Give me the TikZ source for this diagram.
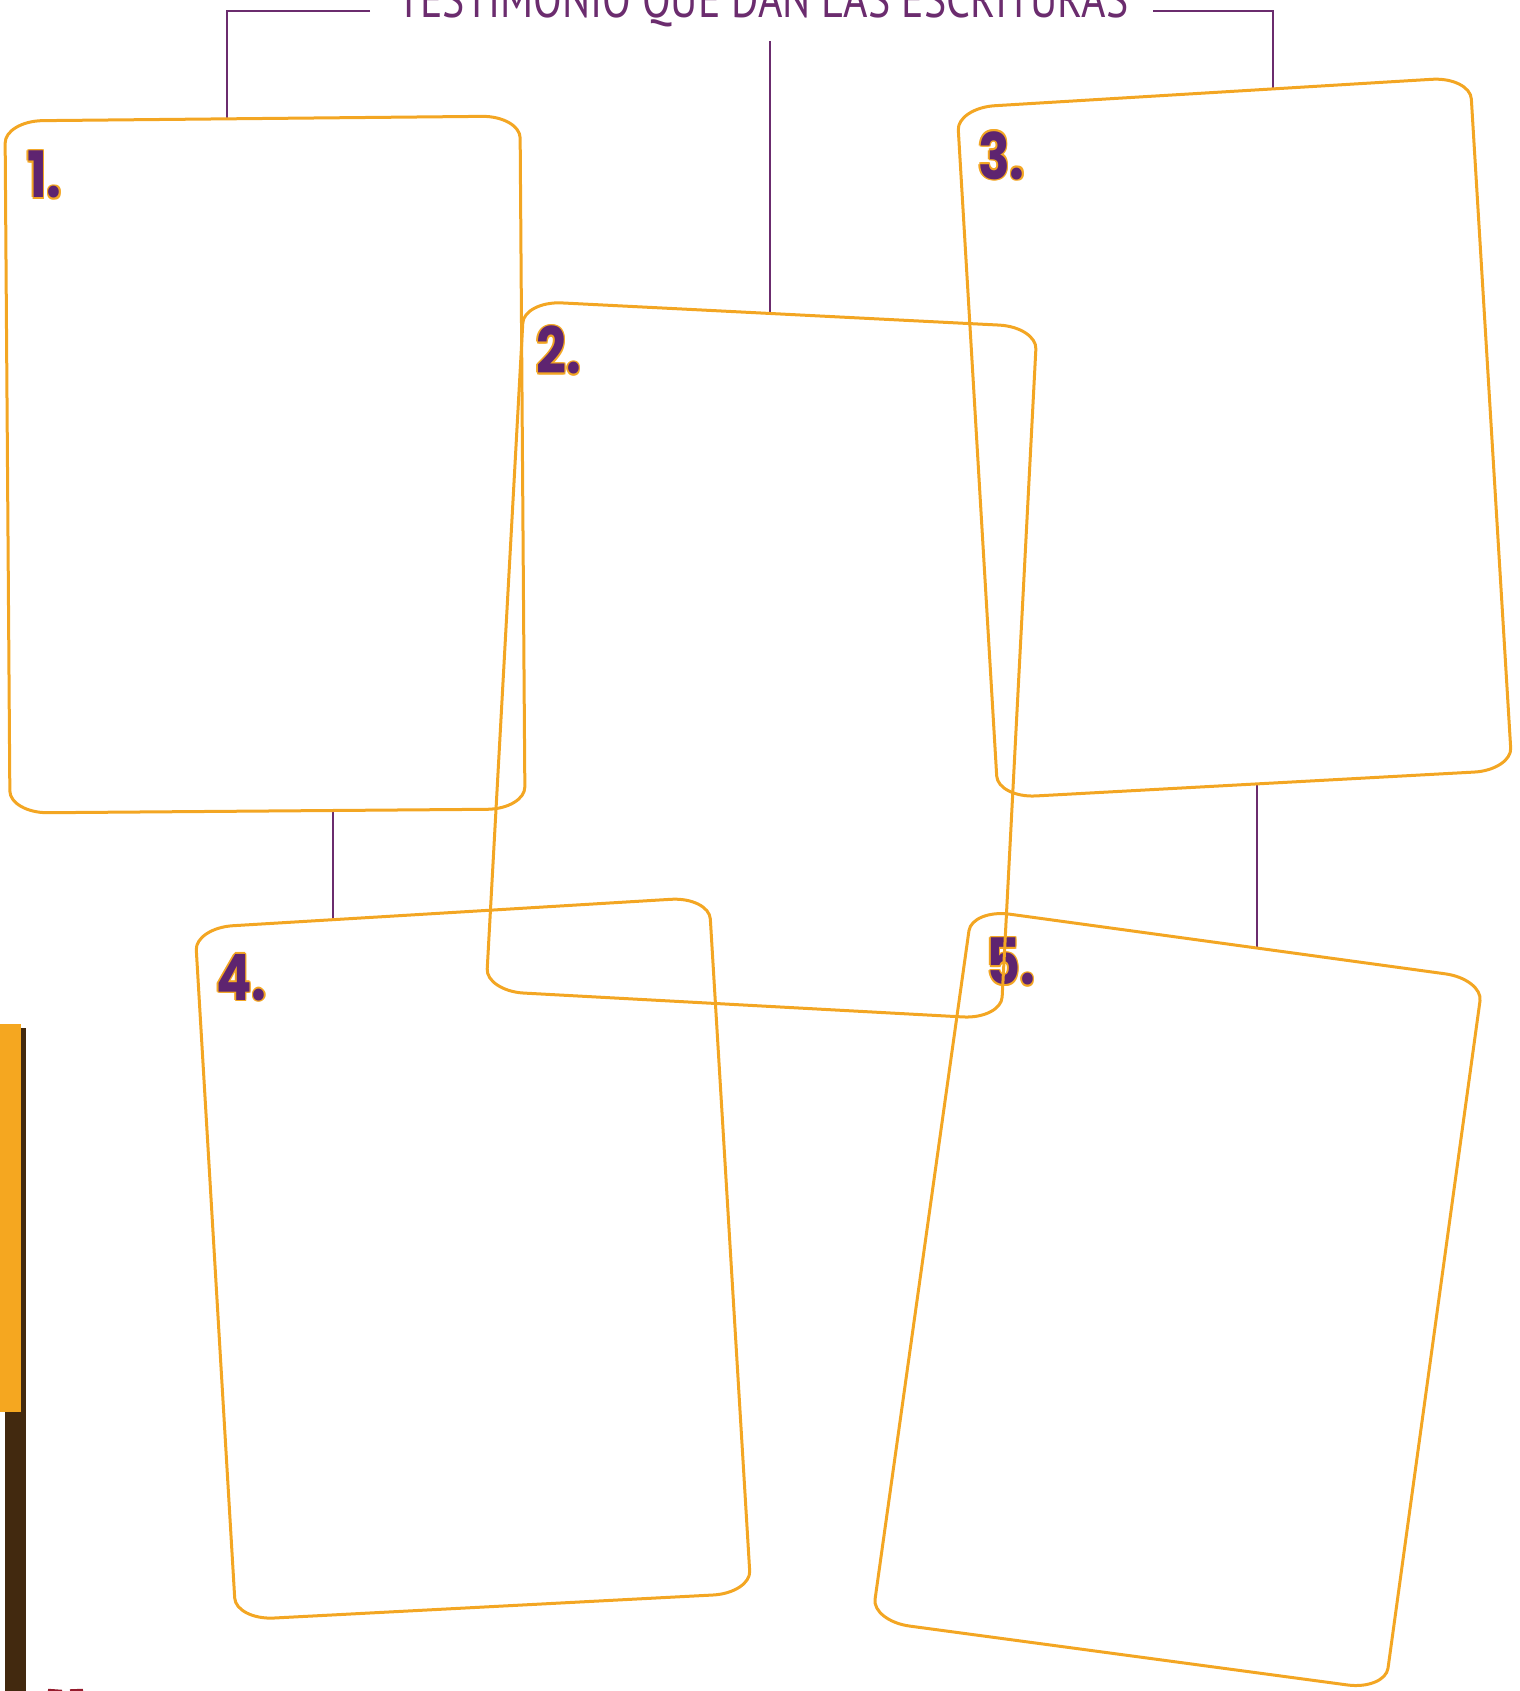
\documentclass[tikz,border=0pt]{standalone}
\usepackage{fontspec}
\usetikzlibrary{calc}
\newfontfamily\titlefont{PT Sans}
\newfontfamily\numfont{Poppins}
\definecolor{cardorange}{RGB}{243,166,35}
\definecolor{linkpurple}{RGB}{107,44,110}
\definecolor{numpurple}{RGB}{94,36,112}
\definecolor{barorange}{RGB}{245,167,32}
\definecolor{barbrown}{RGB}{66,41,15}
\definecolor{pagered}{RGB}{150,28,45}
\def\hr{38pt}\def\vr{22pt}\def\hc{17pt}\def\vc{10pt}
\newcommand\drawcard[4]{%
  \draw[cardline]
    ($(#1)!\hr!(#2)$) -- ($(#2)!\hr!(#1)$)
    .. controls ($(#2)!\hc!(#1)$) and ($(#2)!\vc!(#3)$) .. ($(#2)!\vr!(#3)$)
    -- ($(#3)!\vr!(#2)$)
    .. controls ($(#3)!\vc!(#2)$) and ($(#3)!\hc!(#4)$) .. ($(#3)!\hr!(#4)$)
    -- ($(#4)!\hr!(#3)$)
    .. controls ($(#4)!\hc!(#3)$) and ($(#4)!\vc!(#1)$) .. ($(#4)!\vr!(#1)$)
    -- ($(#1)!\vr!(#4)$)
    .. controls ($(#1)!\vc!(#4)$) and ($(#1)!\hc!(#2)$) .. ($(#1)!\hr!(#2)$)
    -- cycle;
}
\newcommand\cardnum[3]{%
  \foreach \dx/\dy in {1.6/0,-1.6/0,0/1.6,0/-1.6,1.1/1.1,-1.1/1.1,1.1/-1.1,-1.1/-1.1}
    \node[numstyle,text=cardorange] at ($(#2)+(\dx,\dy)$) {\scalebox{0.82}[1]{#3}};
  \node[numstyle,text=numpurple] (#1) at (#2) {\scalebox{0.82}[1]{#3}};
}
\begin{document}
\begin{tikzpicture}[x=1pt,y=-1pt,
  cardline/.style={draw=cardorange,line width=3pt,line join=round},
  link/.style={draw=linkpurple,line width=2.5pt},
  numstyle/.style={inner sep=0pt,anchor=north west,font=\numfont\bfseries\fontsize{64}{64}\selectfont}]
\useasboundingbox (0,0) rectangle (1519,1691);
% side bar
\fill[barbrown] (5,1028) rectangle (26,1691);
\fill[barorange] (0,1024) rectangle (21,1412);
% page number fragment
\draw[pagered,line width=2.5pt] (48,1690) -- (62,1691);
\draw[pagered,line width=2.5pt] (70,1690.5) -- (83,1690);
% title
\node[inner sep=0pt,anchor=base west,text=linkpurple] (title) at (397,18)
  {\resizebox{731pt}{37pt}{\titlefont TESTIMONIO QUE DAN LAS ESCRITURAS}};
% card corners
\coordinate (c1tl) at (5,121);   \coordinate (c1tr) at (520,116);
\coordinate (c1br) at (525,809); \coordinate (c1bl) at (10,813);
\coordinate (c2tl) at (524,301); \coordinate (c2tr) at (1037,327);
\coordinate (c2br) at (1001,1019); \coordinate (c2bl) at (486,991);
\coordinate (c3tl) at (957,108); \coordinate (c3tr) at (1470,77);
\coordinate (c3br) at (1512,770); \coordinate (c3bl) at (998,798);
\coordinate (c4tl) at (195,928); \coordinate (c4tr) at (709,897);
\coordinate (c4br) at (751,1593); \coordinate (c4bl) at (236,1620);
\coordinate (c5tl) at (972,909); \coordinate (c5tr) at (1483,979);
\coordinate (c5br) at (1385,1690); \coordinate (c5bl) at (872,1621);
% connector points
\coordinate (l1a) at (370,11); \coordinate (l1b) at (227,11); \coordinate (l1c) at (227,120);
\coordinate (l3a) at (1153,11); \coordinate (l3b) at (1273,11); \coordinate (l3c) at (1273,90);
\coordinate (l2a) at (770,41); \coordinate (l2b) at (770,314);
\coordinate (l4a) at (333,810); \coordinate (l4b) at (333,920);
\coordinate (l5a) at (1257,783); \coordinate (l5b) at (1257,947);
\draw[link] (l1a) -- (l1b) -- (l1c);
\draw[link] (l3a) -- (l3b) -- (l3c);
\draw[link] (l2a) -- (l2b);
\draw[link] (l4a) -- (l4b);
\draw[link] (l5a) -- (l5b);
% numbers
\cardnum{n1}{27,151}{1.}
\cardnum{n2}{536,326}{2.}
\cardnum{n3}{978,131}{3.}
\cardnum{n4}{216,954}{4.}
\cardnum{n5}{986,938}{5.}
% cards
\drawcard{c1tl}{c1tr}{c1br}{c1bl}
\drawcard{c3tl}{c3tr}{c3br}{c3bl}
\drawcard{c4tl}{c4tr}{c4br}{c4bl}
\drawcard{c5tl}{c5tr}{c5br}{c5bl}
\drawcard{c2tl}{c2tr}{c2br}{c2bl}
\end{tikzpicture}
\end{document}
